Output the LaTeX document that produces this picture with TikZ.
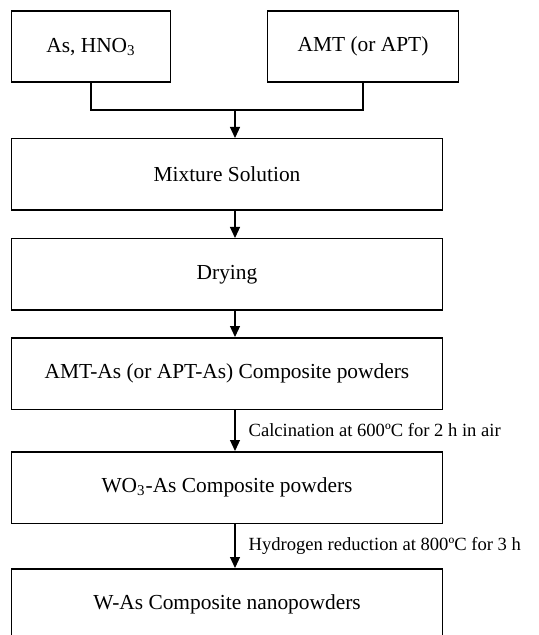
\documentclass[tikz,border=0pt]{standalone}
\usepackage{fontspec}
\setmainfont{Liberation Serif}
\usepackage{tikz}
\usetikzlibrary{arrows.meta, positioning}

\begin{document}
\begin{tikzpicture}[
        every node/.style={font=\fontsize{10.7}{13}\selectfont},
        srcbox/.style={draw, line width=0.75pt, minimum height=35.5pt, inner sep=2pt},
        mainbox/.style={draw, line width=0.75pt, minimum width=215.5pt, minimum height=35.75pt, inner sep=2pt},
        flow/.style={-{Triangle[length=5.5pt, width=5pt]}, line width=0.6pt},
        lbl/.style={inner sep=0pt, anchor=west, xshift=6.5pt, font=\fontsize{9.3}{11}\selectfont}
    ]
        \useasboundingbox (0,0) rectangle (269pt,-317.5pt);
        % main chain
        \node[mainbox] (mix) at (113.5pt,-87.25pt) {Mixture Solution};
        \node[mainbox, below=13.5pt of mix] (dry) {Drying};
        \node[mainbox, below=13pt of dry] (amtas) {AMT-As (or APT-As) Composite powders};
        \node[mainbox, below=20.5pt of amtas] (wo3) {WO\textsubscript{3}-As Composite powders};
        \node[mainbox, below=22pt of wo3] (was) {W-As Composite nanopowders};
        % starting materials
        \node[srcbox, minimum width=79.5pt, above right=27.5pt and 0pt of mix.north west] (as) {As, HNO\textsubscript{3}};
        \node[srcbox, minimum width=95.5pt, above left=27.5pt and -8pt of mix.north east] (amt) {AMT (or APT)};
        \coordinate (join) at ([xshift=4pt, yshift=14pt]mix.north);
        \draw[line width=0.6pt] (as.south) |- (join) -| (amt.south);
        \draw[flow] (join) -- ([xshift=4pt]mix.north);
        \draw[flow] ([xshift=4pt]mix.south) -- ([xshift=4pt]dry.north);
        \draw[flow] ([xshift=4pt]dry.south) -- ([xshift=4pt]amtas.north);
        \draw[flow] ([xshift=4pt]amtas.south) -- node[lbl] {Calcination at 600ºC for 2 h in air} ([xshift=4pt]wo3.north);
        \draw[flow] ([xshift=4pt]wo3.south) -- node[lbl] {Hydrogen reduction at 800ºC for 3 h} ([xshift=4pt]was.north);
    \end{tikzpicture}
\end{document}
